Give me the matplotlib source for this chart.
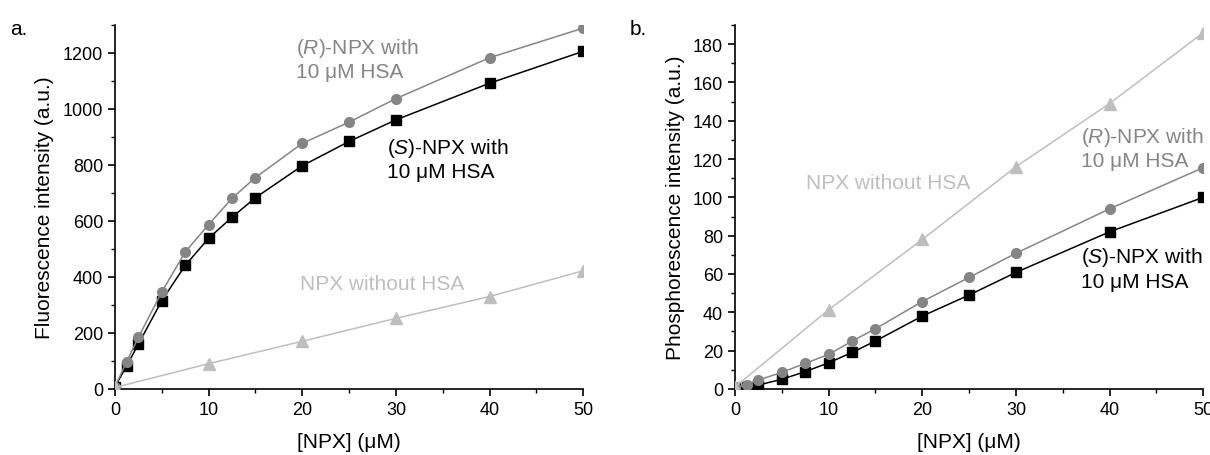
import numpy as np
import matplotlib
matplotlib.use('Agg')
import matplotlib.pyplot as plt
from matplotlib.ticker import MultipleLocator

plt.rcParams['font.family'] = ['Liberation Sans', 'DejaVu Sans']
plt.rcParams['mathtext.fontset'] = 'custom'
plt.rcParams['mathtext.rm'] = 'Liberation Sans'
plt.rcParams['mathtext.it'] = 'Liberation Sans:italic'

# concentrations (uM)
conc_hsa = [0, 1.25, 2.5, 5, 7.5, 10, 12.5, 15, 20, 25, 30, 40, 50]
conc_free = [0, 10, 20, 30, 40, 50]

# fluorescence (a.u.)
fl_s = [8, 82, 160, 315, 441, 538, 613, 683, 797, 884, 961, 1092, 1206]
fl_r = [8, 97, 184, 346, 489, 587, 681, 755, 877, 953, 1037, 1183, 1289]
fl_free = [5, 90, 170, 252, 330, 422]

# phosphorescence (a.u.)
ph_s = [0.5, 1, 2, 5, 9, 13.6, 19, 25, 38, 49, 60.8, 82, 100]
ph_r = [1, 2, 4.6, 8.6, 13.3, 18, 24.9, 31.4, 45.6, 58.2, 70.8, 94, 115.5]
ph_free = [1, 41.3, 78, 116, 149, 186]

C_S = 'black'
C_R = '#858585'
C_FREE = '#bebebe'

fig = plt.figure(figsize=(12.1, 4.56), dpi=100)
ax1 = fig.add_axes([0.095, 0.145, 0.387, 0.798])
ax2 = fig.add_axes([0.6074, 0.145, 0.387, 0.798])


def style(ax):
    for s in ['top', 'right']:
        ax.spines[s].set_visible(False)
    for s in ['left', 'bottom']:
        ax.spines[s].set_linewidth(1.2)
    ax.tick_params(which='major', direction='out', length=5, width=1.2, labelsize=13)
    ax.tick_params(which='minor', direction='out', length=3, width=1.0)
    ax.set_xlim(0, 50)
    ax.xaxis.set_major_locator(MultipleLocator(10))
    ax.xaxis.set_minor_locator(MultipleLocator(5))
    ax.set_xlabel('[NPX] (μM)', fontsize=15, labelpad=10)


def draw(ax, s, r, free):
    ax.plot(conc_hsa, s, color=C_S, lw=1.1, marker='s', ms=6.5, zorder=3)
    ax.plot(conc_hsa, r, color=C_R, lw=1.1, marker='o', ms=7, zorder=4)
    ax.plot(conc_free, free, color=C_FREE, lw=1.1, marker='^', ms=8, zorder=5)


# a. fluorescence
draw(ax1, fl_s, fl_r, fl_free)
style(ax1)
ax1.set_ylim(0, 1300)
ax1.yaxis.set_major_locator(MultipleLocator(200))
ax1.yaxis.set_minor_locator(MultipleLocator(100))
ax1.set_ylabel('Fluorescence intensity (a.u.)', fontsize=15, labelpad=6)
ax1.text(19.3, 1262, '($\\mathit{R}$)-NPX with\n10 μM HSA', color=C_R, fontsize=15,
         va='top', ha='left', linespacing=1.25)
ax1.text(29.0, 905, '($\\mathit{S}$)-NPX with\n10 μM HSA', color=C_S, fontsize=15,
         va='top', ha='left', linespacing=1.25)
ax1.text(19.8, 378, 'NPX without HSA', color=C_FREE, fontsize=15, va='center', ha='left')
fig.text(0.008, 0.935, 'a.', fontsize=15, va='center')

# b. phosphorescence
draw(ax2, ph_s, ph_r, ph_free)
style(ax2)
ax2.set_ylim(0, 190)
ax2.yaxis.set_major_locator(MultipleLocator(20))
ax2.yaxis.set_minor_locator(MultipleLocator(10))
ax2.set_ylabel('Phosphorescence intensity (a.u.)', fontsize=15, labelpad=6)
ax2.text(7.6, 108, 'NPX without HSA', color=C_FREE, fontsize=15, va='center', ha='left')
ax2.text(36.9, 138, '($\\mathit{R}$)-NPX with\n10 μM HSA', color=C_R, fontsize=15,
         va='top', ha='left', linespacing=1.25)
ax2.text(36.9, 75, '($\\mathit{S}$)-NPX with\n10 μM HSA', color=C_S, fontsize=15,
         va='top', ha='left', linespacing=1.25)
fig.text(0.52, 0.935, 'b.', fontsize=15, va='center')

fig.savefig('out.png', dpi=100)
